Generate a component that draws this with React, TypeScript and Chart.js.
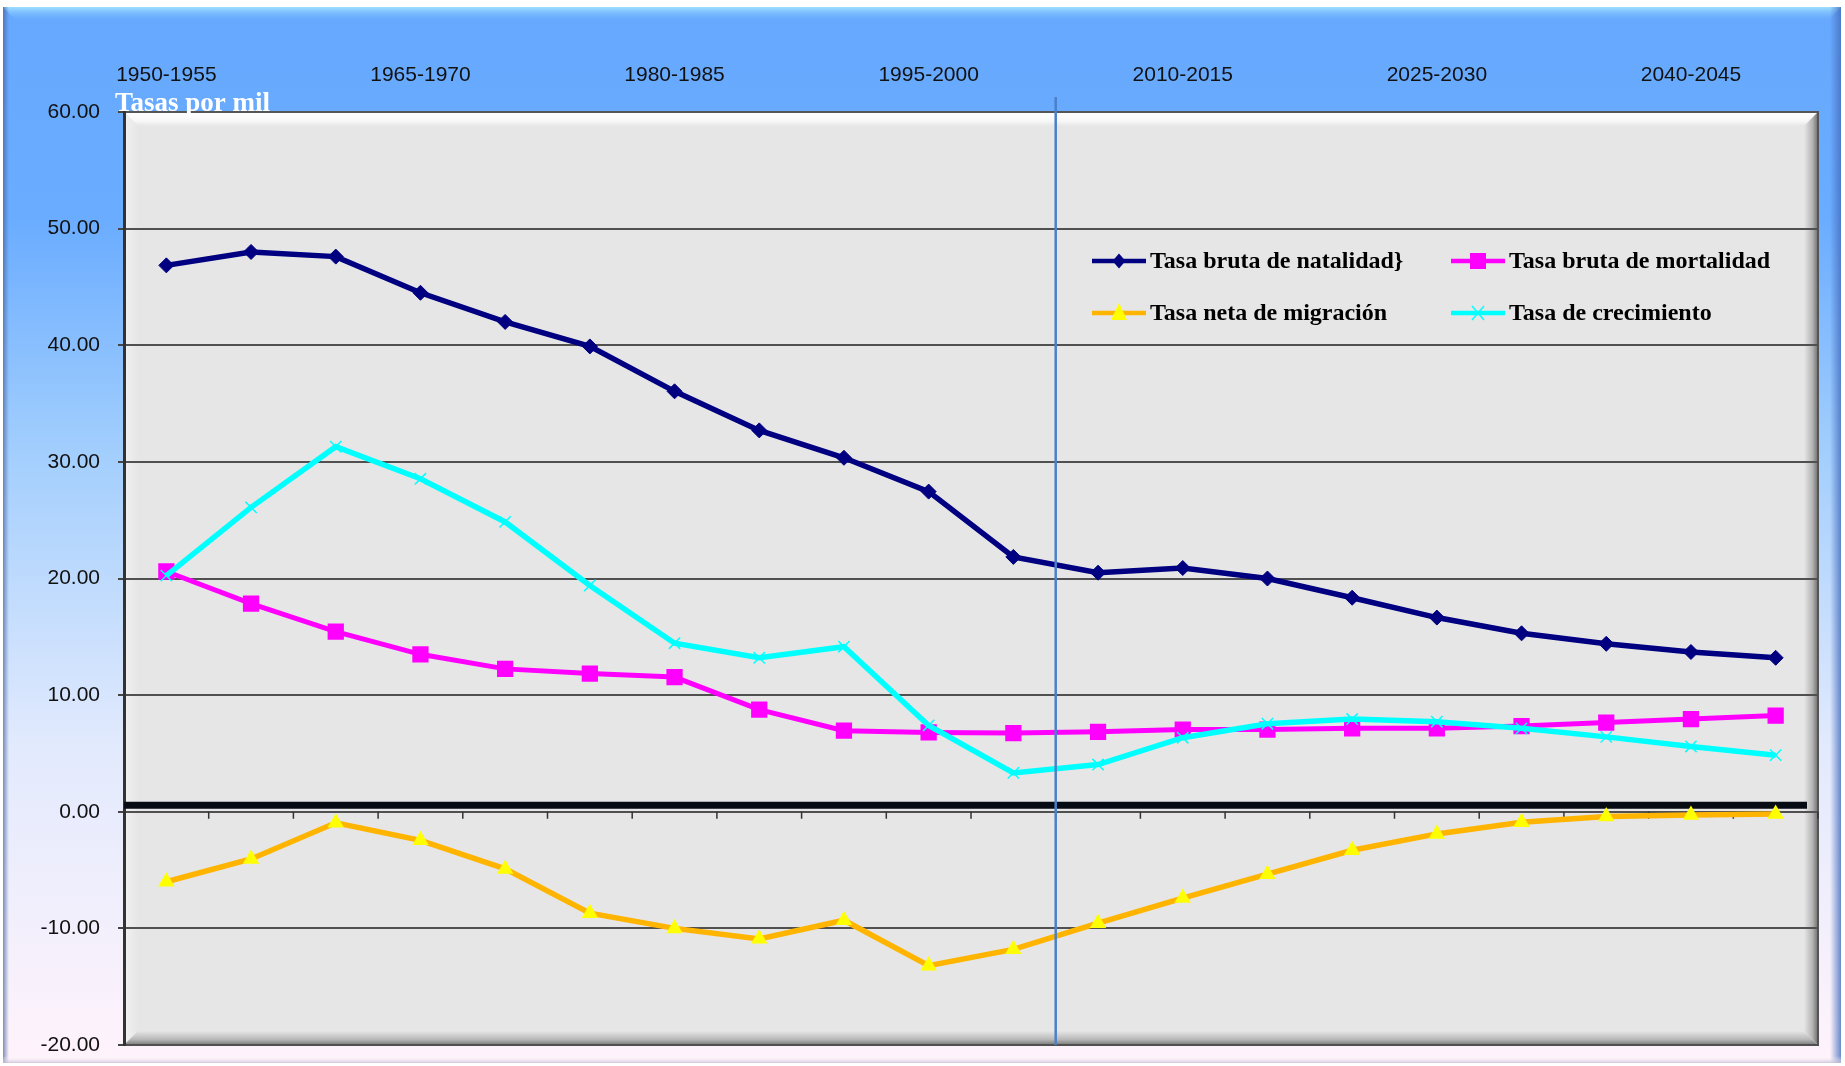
import React, { useEffect, useRef } from 'react';
import { Chart, registerables } from 'chart.js';

Chart.register(...registerables);

const categories = [
  '1950-1955', '1955-1960', '1960-1965', '1965-1970', '1970-1975',
  '1975-1980', '1980-1985', '1985-1990', '1990-1995', '1995-2000',
  '2000-2005', '2005-2010', '2010-2015', '2015-2020', '2020-2025',
  '2025-2030', '2030-2035', '2035-2040', '2040-2045', '2045-2050',
];
const shownCategoryLabels = ['1950-1955', '1965-1970', '1980-1985', '1995-2000', '2010-2015', '2025-2030', '2040-2045'];

const natalidad = [46.85, 48.0, 47.6, 44.5, 42.0, 39.9, 36.05, 32.7, 30.35, 27.45, 21.85, 20.5, 20.9, 20.0, 18.35, 16.65, 15.3, 14.4, 13.7, 13.2];
const mortalidad = [20.6, 17.85, 15.45, 13.5, 12.25, 11.85, 11.55, 8.75, 6.95, 6.8, 6.75, 6.85, 7.05, 7.05, 7.15, 7.15, 7.35, 7.65, 7.95, 8.25];
const migracion = [-6.0, -4.05, -0.95, -2.45, -4.9, -8.7, -10.0, -10.9, -9.3, -13.2, -11.8, -9.55, -7.4, -5.35, -3.3, -1.9, -0.9, -0.4, -0.28, -0.2];
const crecimiento = [20.25, 26.1, 31.3, 28.55, 24.85, 19.4, 14.45, 13.2, 14.15, 7.4, 3.33, 4.05, 6.35, 7.55, 7.95, 7.72, 7.15, 6.42, 5.6, 4.85];

const seriesLabels = ['Tasa bruta de natalidad}', 'Tasa bruta de mortalidad', 'Tasa neta de migración', 'Tasa de crecimiento'];
const yAxisTitle = 'Tasas por mil';
const yMin = -20;
const yMax = 60;
const yStep = 10;
const dividerAfterCategory = '2000-2005';

const W = 1845;
const H = 1066;
const SANS = '"Liberation Sans", Arial, sans-serif';
const SERIF = '"Liberation Serif", "Times New Roman", serif';

type Marker = 'diamond' | 'square' | 'triangle' | 'cross';

function drawMarker(ctx: CanvasRenderingContext2D, kind: Marker, x: number, y: number, color: string) {
  ctx.save();
  ctx.fillStyle = color;
  ctx.strokeStyle = color;
  ctx.beginPath();
  if (kind === 'diamond') {
    ctx.moveTo(x, y - 7.5); ctx.lineTo(x + 6.5, y); ctx.lineTo(x, y + 7.5); ctx.lineTo(x - 6.5, y); ctx.closePath(); ctx.fill();
  } else if (kind === 'square') {
    ctx.fillRect(x - 8, y - 8, 16, 16);
  } else if (kind === 'triangle') {
    ctx.moveTo(x, y - 10); ctx.lineTo(x + 8, y + 7); ctx.lineTo(x - 8, y + 7); ctx.closePath(); ctx.fill();
  } else {
    ctx.lineWidth = 1.5;
    ctx.moveTo(x - 6, y - 7); ctx.lineTo(x + 6, y + 7); ctx.moveTo(x + 6, y - 7); ctx.lineTo(x - 6, y + 7); ctx.stroke();
  }
  ctx.restore();
}

const decorPlugin = {
  id: 'decor',
  beforeDraw(chart: any) {
    const { ctx, chartArea: a } = chart;
    ctx.save();
    ctx.fillStyle = '#ffffff';
    ctx.fillRect(0, 0, W, H);
    // outer frame gradient
    const g = ctx.createLinearGradient(0, 7, 0, 1063);
    g.addColorStop(0, '#66a8fd');
    g.addColorStop(0.2, '#6aacff');
    g.addColorStop(0.42, '#a2cefd');
    g.addColorStop(0.7, '#e2eafd');
    g.addColorStop(1, '#fff3fb');
    ctx.fillStyle = g;
    ctx.fillRect(3, 7, 1838, 1056);
    // top bevel highlight
    const tg = ctx.createLinearGradient(0, 7, 0, 22);
    tg.addColorStop(0, '#9fe0ff');
    tg.addColorStop(1, 'rgba(106,172,255,0)');
    ctx.fillStyle = tg;
    ctx.beginPath();
    ctx.moveTo(3, 7); ctx.lineTo(1841, 7); ctx.lineTo(1827, 22); ctx.lineTo(17, 22); ctx.closePath();
    ctx.fill();
    // left edge
    const lg = ctx.createLinearGradient(3, 0, 9, 0);
    lg.addColorStop(0, 'rgba(70,100,160,0.7)');
    lg.addColorStop(1, 'rgba(70,100,160,0)');
    ctx.fillStyle = lg;
    ctx.fillRect(3, 7, 6, 1056);
    // right edge
    const rg = ctx.createLinearGradient(1841, 0, 1830, 0);
    rg.addColorStop(0, 'rgba(70,110,190,0.8)');
    rg.addColorStop(1, 'rgba(70,110,190,0)');
    ctx.fillStyle = rg;
    ctx.fillRect(1830, 7, 11, 1056);
    // bottom edge
    const bg = ctx.createLinearGradient(0, 1063, 0, 1056);
    bg.addColorStop(0, 'rgba(200,190,210,0.8)');
    bg.addColorStop(1, 'rgba(255,255,255,0)');
    ctx.fillStyle = bg;
    ctx.fillRect(3, 1056, 1838, 7);

    // plot area
    ctx.fillStyle = '#e6e6e6';
    ctx.fillRect(a.left, a.top, a.right - a.left, a.bottom - a.top);
    const b = 14;
    // top highlight
    const ph = ctx.createLinearGradient(0, a.top, 0, a.top + b);
    ph.addColorStop(0, '#ffffff');
    ph.addColorStop(0.65, '#f7f7f7');
    ph.addColorStop(1, '#e6e6e6');
    ctx.fillStyle = ph;
    ctx.beginPath();
    ctx.moveTo(a.left, a.top); ctx.lineTo(a.right, a.top); ctx.lineTo(a.right - b, a.top + b); ctx.lineTo(a.left + b, a.top + b); ctx.closePath();
    ctx.fill();
    // left highlight
    const pl = ctx.createLinearGradient(a.left, 0, a.left + b, 0);
    pl.addColorStop(0, '#f2f2f2');
    pl.addColorStop(1, '#e6e6e6');
    ctx.fillStyle = pl;
    ctx.beginPath();
    ctx.moveTo(a.left, a.top); ctx.lineTo(a.left + b, a.top + b); ctx.lineTo(a.left + b, a.bottom - b); ctx.lineTo(a.left, a.bottom); ctx.closePath();
    ctx.fill();
    // right shadow
    const pr = ctx.createLinearGradient(a.right - b, 0, a.right, 0);
    pr.addColorStop(0, '#e6e6e6');
    pr.addColorStop(0.6, '#b4b4b4');
    pr.addColorStop(1, '#6e6e6e');
    ctx.fillStyle = pr;
    ctx.beginPath();
    ctx.moveTo(a.right, a.top); ctx.lineTo(a.right, a.bottom); ctx.lineTo(a.right - b, a.bottom - b); ctx.lineTo(a.right - b, a.top + b); ctx.closePath();
    ctx.fill();
    // bottom shadow
    const pb = ctx.createLinearGradient(0, a.bottom - b, 0, a.bottom);
    pb.addColorStop(0, '#e6e6e6');
    pb.addColorStop(0.6, '#b8b8b8');
    pb.addColorStop(1, '#777777');
    ctx.fillStyle = pb;
    ctx.beginPath();
    ctx.moveTo(a.left, a.bottom); ctx.lineTo(a.right, a.bottom); ctx.lineTo(a.right - b, a.bottom - b); ctx.lineTo(a.left + b, a.bottom - b); ctx.closePath();
    ctx.fill();
    // right / bottom border lines
    ctx.strokeStyle = '#555555';
    ctx.lineWidth = 2;
    ctx.beginPath();
    ctx.moveTo(a.right, a.top); ctx.lineTo(a.right, a.bottom); ctx.lineTo(a.left, a.bottom);
    ctx.stroke();
    ctx.restore();
  },
  beforeDatasetsDraw(chart: any) {
    const { ctx, chartArea: a, scales } = chart;
    const y0 = scales.y.getPixelForValue(0);
    ctx.save();
    // thick zero axis band
    ctx.fillStyle = '#070b14';
    ctx.fillRect(a.left, y0 - 10, a.right - a.left - 11, 7);
    // category boundary ticks below the zero line
    ctx.strokeStyle = '#333333';
    ctx.lineWidth = 1.5;
    ctx.beginPath();
    for (let i = 1; i <= categories.length; i++) {
      const x = i < categories.length
        ? (scales.x.getPixelForValue(i - 1) + scales.x.getPixelForValue(i)) / 2
        : a.right;
      ctx.moveTo(x, y0); ctx.lineTo(x, y0 + 7);
    }
    ctx.stroke();
    ctx.restore();
  },
  afterDatasetsDraw(chart: any) {
    const { ctx, chartArea: a, scales } = chart;
    ctx.save();
    // vertical divider
    const idx = categories.indexOf(dividerAfterCategory);
    const xd = (scales.x.getPixelForValue(idx) + scales.x.getPixelForValue(idx + 1)) / 2;
    ctx.strokeStyle = '#4a80c8';
    ctx.lineWidth = 2.5;
    ctx.beginPath();
    ctx.moveTo(xd, a.top - 15); ctx.lineTo(xd, a.bottom);
    ctx.stroke();

    // title
    ctx.fillStyle = '#ffffff';
    ctx.font = 'bold 27px ' + SERIF;
    ctx.textBaseline = 'alphabetic';
    ctx.textAlign = 'left';
    ctx.fillText(yAxisTitle, 115, 111);

    // legend
    const items: { label: string; line: string; marker: string; kind: Marker; x: number; y: number }[] = [
      { label: seriesLabels[0], line: '#000080', marker: '#000080', kind: 'diamond', x: 1092, y: 261 },
      { label: seriesLabels[1], line: '#ff00ff', marker: '#ff00ff', kind: 'square', x: 1451, y: 261 },
      { label: seriesLabels[2], line: '#ffb400', marker: '#ffff00', kind: 'triangle', x: 1092, y: 313 },
      { label: seriesLabels[3], line: '#00ffff', marker: '#00ffff', kind: 'cross', x: 1451, y: 313 },
    ];
    ctx.font = 'bold 24px ' + SERIF;
    ctx.textBaseline = 'middle';
    for (const it of items) {
      ctx.strokeStyle = it.line;
      ctx.lineWidth = 4.5;
      ctx.beginPath();
      ctx.moveTo(it.x, it.y); ctx.lineTo(it.x + 54, it.y);
      ctx.stroke();
      drawMarker(ctx, it.kind, it.x + 27, it.y, it.marker);
      ctx.fillStyle = '#000000';
      ctx.fillText(it.label, it.x + 58, it.y + 1);
    }
    ctx.restore();
  },
};

export default function App() {
  const ref = useRef<HTMLCanvasElement | null>(null);

  useEffect(() => {
    if (!ref.current) return;
    const chart = new Chart(ref.current, {
      type: 'line',
      data: {
        labels: categories,
        datasets: [
          {
            label: seriesLabels[0], data: natalidad, order: 4,
            borderColor: '#000080', backgroundColor: '#000080', borderWidth: 5.5,
            pointStyle: 'rectRot', pointRadius: 7.5, pointBorderWidth: 1,
            pointBackgroundColor: '#000080', pointBorderColor: '#000080',
          },
          {
            label: seriesLabels[1], data: mortalidad, order: 3,
            borderColor: '#ff00ff', backgroundColor: '#ff00ff', borderWidth: 5,
            pointStyle: 'rect', pointRadius: 11.5, pointBorderWidth: 0,
            pointBackgroundColor: '#ff00ff', pointBorderColor: '#ff00ff',
          },
          {
            label: seriesLabels[2], data: migracion, order: 2,
            borderColor: '#ffb400', backgroundColor: '#ffff00', borderWidth: 5.5,
            pointStyle: 'triangle', pointRadius: 9.5, pointBorderWidth: 0,
            pointBackgroundColor: '#ffff00', pointBorderColor: '#ffff00',
          },
          {
            label: seriesLabels[3], data: crecimiento, order: 1,
            borderColor: '#00ffff', backgroundColor: '#00ffff', borderWidth: 5.5,
            pointStyle: 'crossRot', pointRadius: 8, pointBorderWidth: 1.5,
            pointBackgroundColor: '#00ffff', pointBorderColor: '#00ffff',
          },
        ],
      },
      options: {
        responsive: false,
        devicePixelRatio: 1,
        animation: false,
        layout: { padding: { left: 0, top: 0, right: 27, bottom: 21 } },
        plugins: {
          legend: { display: false },
          tooltip: { enabled: false },
          title: { display: false },
        },
        elements: { line: { tension: 0 } },
        scales: {
          x: {
            type: 'category',
            position: 'top',
            offset: true,
            grid: { display: false, drawTicks: false },
            border: { display: true, color: '#555555', width: 2 },
            ticks: {
              autoSkip: false,
              maxRotation: 0,
              minRotation: 0,
              padding: 24,
              color: '#111111',
              font: { family: SANS, size: 21 },
              callback: (_v: any, i: number) => (shownCategoryLabels.includes(categories[i]) ? categories[i] : ''),
            },
            afterFit: (s: any) => { s.height = 112; s.paddingLeft = 0; s.paddingRight = 0; },
          },
          y: {
            min: yMin,
            max: yMax,
            grid: { color: '#505050', lineWidth: 2, drawTicks: true, tickLength: 6, tickColor: '#444444' },
            border: { display: true, color: '#333333', width: 3 },
            ticks: {
              stepSize: yStep,
              padding: 18,
              color: '#111111',
              font: { family: SANS, size: 21 },
              callback: (v: any) => Number(v).toFixed(2),
            },
            afterFit: (s: any) => { s.width = 124; s.paddingTop = 0; s.paddingBottom = 0; },
          },
        },
      },
      plugins: [decorPlugin],
    });
    return () => chart.destroy();
  }, []);

  return (
    <div style={{ position: 'fixed', left: 0, top: 0, width: W, height: H }}>
      <canvas ref={ref} width={W} height={H} style={{ display: 'block', width: W, height: H }} />
    </div>
  );
}
